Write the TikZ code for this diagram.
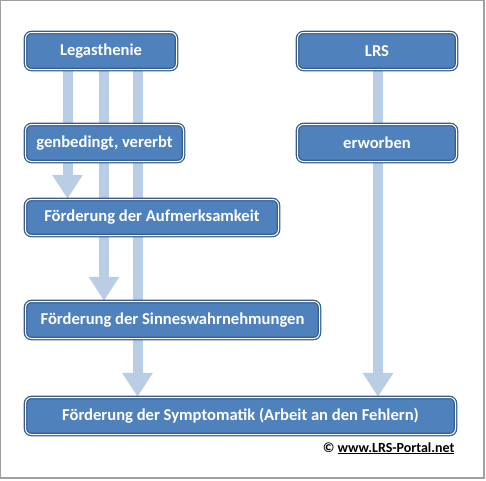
\documentclass[tikz,border=0pt]{standalone}
\usepackage{fontspec}
\setmainfont{Carlito}
\usepackage{tikz}
\usetikzlibrary{arrows.meta,calc,positioning,backgrounds}
\definecolor{boxblue}{RGB}{79,129,189}
\definecolor{boxedge}{RGB}{56,93,138}
\definecolor{flowblue}{RGB}{185,205,229}
\definecolor{framegray}{RGB}{160,160,160}

\begin{document}
\begin{tikzpicture}[x=1pt,y=-1pt,
  box/.style={draw=boxedge,double=white,double distance=1pt,line width=1.3pt,
    fill=boxblue,rounded corners=6pt,text=white,inner sep=0pt,minimum height=37pt,
    font=\bfseries\fontsize{16.6}{19}\selectfont},
  flow/.style={draw=flowblue,line width=10pt,-{Triangle[width=29pt,length=24pt]}}]
  \useasboundingbox (0,0) rectangle (486,480);
  \draw[framegray,line width=1.2pt] (0.6,0.6) rectangle (484,478);
  % columns of the arrows
  \coordinate (c1) at (67.5,0);
  \coordinate (c2) at (104,0);
  \coordinate (c3) at (137.5,0);
  \coordinate (c4) at (378,0);
  \node[box,minimum width=151pt] (leg) at (101,51) {Legasthenie};
  \node[box,minimum width=159pt] (lrs) at (377,51) {LRS};
  \node[box,minimum width=158pt] (gen) at (104.5,143) {genbedingt, vererbt};
  \node[box,minimum width=159pt] (erw) at (377,143) {erworben};
  \node[box,minimum width=253pt,minimum height=36pt] (auf) at (152,217.5) {Förderung der Aufmerksamkeit};
  \node[box,minimum width=294pt] (sinne) at (172.5,320) {Förderung der Sinneswahrnehmungen};
  \node[box,minimum width=430pt] (sympt) at (240.5,416) {Förderung der Symptomatik (Arbeit an den Fehlern)};
  \node[anchor=base east,font=\bfseries\fontsize{14}{16}\selectfont] (copy) at (458,452)
    {\textcopyright{} \underline{www.LRS-Portal.net}};
  \begin{scope}[on background layer]
    \draw[flow] (leg.south -| c1) -- (auf.north -| c1);
    \draw[flow] (leg.south -| c2) -- (sinne.north -| c2);
    \draw[flow] (leg.south -| c3) -- (sympt.north -| c3);
    \draw[flow] (lrs.south -| c4) -- (sympt.north -| c4);
  \end{scope}
\end{tikzpicture}
\end{document}
